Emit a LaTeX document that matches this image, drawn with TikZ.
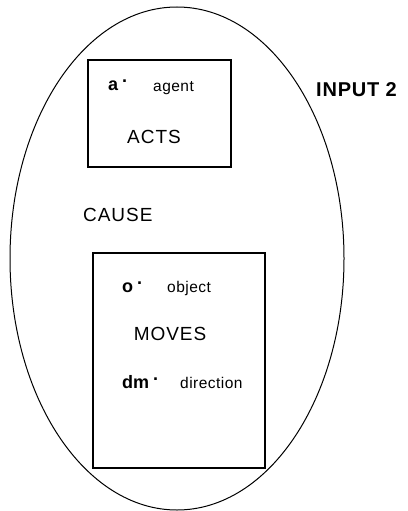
\documentclass[tikz,border=0pt]{standalone}
\usepackage{fontspec}
\setmainfont{Liberation Sans}
\usetikzlibrary{positioning}
\newcommand{\pdot}{\hspace{4pt}\raisebox{.42em}{.}}
\tikzset{
	frame/.style={draw, line width=1.2pt, inner sep=0pt},
	bigtxt/.style={font=\fontsize{19}{19}\selectfont\addfontfeature{LetterSpace=5}, inner sep=0pt},
	smalltxt/.style={font=\fontsize{15.5}{15.5}\selectfont\addfontfeature{LetterSpace=3}, inner sep=0pt},
	vartxt/.style={font=\fontsize{18}{18}\selectfont\bfseries, inner sep=0pt, anchor=base west},
}
\begin{document}
\begin{tikzpicture}[x=1pt, y=-1pt]
	\useasboundingbox (0,0) rectangle (407,511);
	\draw[line width=1pt] (177,258.5) ellipse (167pt and 251.5pt);		%outer ellipse
	\node[frame, minimum width=143pt, minimum height=107pt] (actbox) at (159.5,113.5) {};	%upper box
	\node[frame, minimum width=172pt, minimum height=215pt] (movebox) at (179,360.5) {};	%lower box
	% upper box
	\node[vartxt] (agvar) at (108,90) {a\pdot};
	\node[smalltxt, anchor=base west] (ag) at (153,92) {agent};
	\node[bigtxt, anchor=base] (acts) at (154,143) {ACTS};
	% outside
	\node[vartxt, font=\fontsize{20}{20}\selectfont\bfseries\addfontfeature{LetterSpace=4}] (inp) at (316,96) {INPUT 2};
	\node[bigtxt, anchor=base west] (cause) at (83,221) {CAUSE};
	% lower box
	\node[vartxt] (obvar) at (122,292) {o\pdot};
	\node[smalltxt, anchor=base west] (ob) at (167,292) {object};
	\node[bigtxt, anchor=base] (moves) at (170,340) {MOVES};
	\node[vartxt] (dirvar) at (122,388) {dm\pdot};
	\node[smalltxt, anchor=base west] (dir) at (180,388) {direction};
\end{tikzpicture}
\end{document}
